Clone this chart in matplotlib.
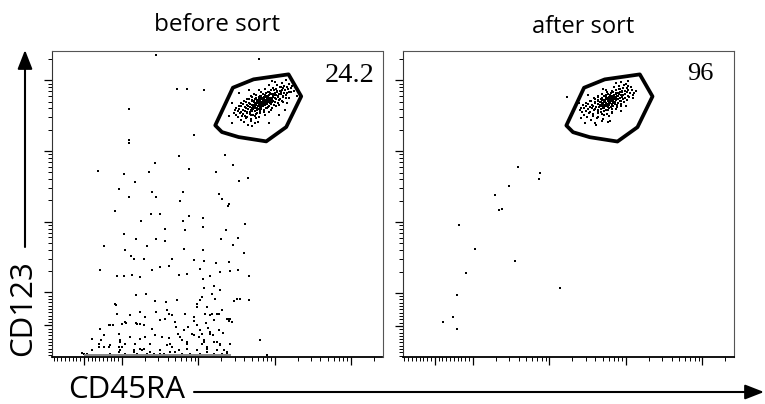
import numpy as np
import matplotlib
matplotlib.use("Agg")
import matplotlib.pyplot as plt
from matplotlib.patches import Polygon, FancyArrowPatch

# ---------------- data (display channel units) ----------------
panel_titles = ["before sort", "after sort"]
gate_percent = ["24.2", "96"]
x_label = "CD45RA"
y_label = "CD123"

# gate polygon (channel units), same gate on both panels
gate_vertices = [(490, 693), (543, 806), (605, 831), (710, 846), (748, 780),
                 (703, 688), (643, 645), (560, 658), (510, 673)]

# before sort: events outside the pDC gate
before_scatter = [
    (312, 905), (620, 891), (375, 803), (405, 803), (457, 800), (230, 743), (230, 648), (232, 640),
    (427, 665), (382, 601), (520, 605), (542, 574), (308, 579), (137, 555), (215, 548), (290, 553),
    (412, 561), (493, 554), (561, 527), (587, 535), (248, 522), (202, 501), (300, 494), (392, 494),
    (230, 478), (311, 478), (385, 466), (502, 486), (510, 471), (532, 458), (527, 451), (190, 436),
    (268, 407), (297, 428), (325, 428), (410, 420), (453, 414), (393, 406), (398, 378), (453, 388),
    (522, 378), (580, 396), (339, 383), (215, 366), (252, 352), (312, 352), (340, 346), (157, 331),
    (218, 320), (285, 330), (395, 321), (453, 318), (507, 352), (557, 355), (542, 333), (575, 311),
    (237, 300), (245, 291), (275, 291), (360, 292), (425, 289), (455, 287), (493, 281), (530, 282),
    (145, 258), (195, 242), (217, 242), (240, 245), (265, 238), (299, 258), (325, 268), (350, 270),
    (380, 245), (405, 246), (445, 263), (452, 232), (475, 242), (505, 253), (535, 255), (558, 258),
    (590, 240), (457, 204), (485, 210), (479, 188), (565, 172), (590, 168), (545, 165), (555, 173),
    (190, 158), (192, 153), (251, 185), (282, 188), (310, 166), (343, 163), (375, 168), (435, 158),
    (445, 168), (465, 148), (490, 171), (505, 198), (195, 128), (263, 133), (312, 133), (345, 138),
    (360, 123), (400, 128), (427, 105), (459, 128), (480, 128), (501, 128), (510, 138), (530, 111),
    (532, 105), (461, 100), (467, 86), (223, 100), (253, 99), (275, 93), (300, 83), (175, 93),
    (325, 108), (370, 102), (408, 88), (435, 93), (445, 78), (475, 68), (500, 78), (513, 71),
    (145, 83), (155, 63), (200, 68), (205, 48), (235, 58), (265, 53), (310, 65), (350, 56),
    (385, 58), (420, 68), (455, 48), (485, 43), (505, 38), (535, 38), (120, 53), (140, 38),
    (175, 33), (200, 28), (245, 18), (275, 23), (325, 18), (360, 28), (370, 13), (405, 23),
    (435, 20), (450, 38), (465, 23), (495, 18), (525, 13), (90, 10), (105, 6), (625, 50),
    (645, 3), (405, 38), (295, 38), (220, 38),
    (170, 93), (183, 93), (210, 98), (220, 103), (233, 123), (255, 98), (265, 98), (278, 118),
    (313, 133), (340, 113), (350, 128), (370, 103), (373, 88), (395, 78), (425, 118), (435, 148),
    (450, 178), (460, 128), (465, 148), (475, 123), (485, 108), (495, 128), (525, 113), (535, 113),
    (540, 103), (147, 48), (155, 28), (120, 18), (205, 43), (210, 28), (203, 18), (235, 58),
    (250, 38), (263, 23), (270, 18), (280, 58), (295, 13), (330, 58), (345, 33), (355, 38),
    (378, 68), (390, 48), (405, 43), (425, 63), (440, 58), (450, 68), (457, 43), (465, 28),
    (475, 73), (483, 63), (495, 43), (505, 33), (515, 18), (435, 18), (380, 18), (325, 8),
    (245, 13), (200, 13), (220, 8), (95, 6), (140, 28), (170, 28), (175, 8), (255, 8),
    (285, 8), (305, 6), (335, 8), (355, 13), (390, 8), (415, 6), (445, 8), (465, 13),
    (485, 8), (510, 8), (525, 6),
]

# before sort: events piled up on the lower axis (CD123 <= 0)
before_floor_x = [100, 104, 108, 112, 115, 119, 123, 127, 130, 134, 137, 141, 146, 150, 152, 156,
                  160, 164, 168, 172, 177, 180, 183, 187, 191, 195, 199, 203, 206, 210, 214, 218,
                  222, 226, 229, 233, 238, 242, 245, 249, 252, 257, 261, 265, 268, 272, 276, 280,
                  284, 288, 291, 296, 300, 303, 307, 311, 315, 319, 323, 327, 330, 335, 339, 343,
                  346, 350, 354, 358, 362, 366, 369, 373, 377, 381, 385, 389, 392, 397, 401, 405,
                  409, 413, 416, 420, 424, 428, 432, 436, 440, 444, 447, 451, 455, 459, 463, 467,
                  470, 474, 478, 482, 486, 490, 494, 498, 501, 505, 509, 513, 517, 521, 524, 528,
                  532, 535]

# before sort: events inside the gate
before_gated = [
    (668, 824), (702, 828), (676, 815), (690, 820), (712, 817),
    (650, 814), (683, 809), (697, 812), (705, 808), (719, 811),
    (640, 802), (662, 806), (671, 801), (688, 807), (694, 804), (708, 802), (716, 805),
    (620, 799), (648, 794), (657, 798), (666, 800), (676, 797), (684, 795), (691, 798), (699, 800), (712, 794),
    (607, 787), (628, 792), (641, 789), (650, 793), (655, 790), (662, 788), (669, 791), (674, 793), (681, 787),
    (688, 792), (697, 790), (706, 789), (718, 793),
    (596, 780), (612, 785), (625, 782), (633, 786), (640, 783), (645, 781), (651, 784), (657, 786), (662, 780),
    (668, 785), (673, 783), (679, 782), (686, 786), (694, 781), (703, 784),
    (585, 773), (601, 778), (612, 775), (620, 779), (626, 776), (631, 774), (636, 777), (640, 779), (645, 773),
    (649, 778), (654, 776), (659, 775), (664, 779), (670, 774), (677, 777), (684, 773), (692, 778), (701, 776), (712, 774),
    (575, 766), (591, 771), (600, 768), (609, 772), (615, 769), (620, 767), (624, 770), (628, 772), (632, 766),
    (636, 771), (640, 769), (644, 768), (648, 772), (653, 767), (658, 770), (664, 766), (671, 771), (680, 769), (690, 767),
    (566, 759), (581, 764), (592, 761), (600, 765), (606, 762), (611, 760), (615, 763), (619, 765), (623, 759),
    (627, 764), (631, 762), (635, 761), (639, 765), (643, 760), (648, 763), (654, 759), (661, 764), (669, 762),
    (678, 760), (693, 763),
    (560, 752), (574, 757), (585, 754), (593, 758), (599, 755), (604, 753), (609, 756), (613, 758), (617, 752),
    (621, 757), (625, 755), (629, 754), (633, 758), (638, 753), (643, 756), (650, 752), (658, 757), (667, 755), (680, 753),
    (553, 745), (567, 750), (578, 747), (587, 751), (594, 748), (599, 746), (604, 749), (609, 751), (614, 745),
    (618, 750), (623, 748), (628, 747), (634, 751), (641, 746), (649, 749), (660, 745), (672, 750),
    (548, 738), (562, 743), (573, 740), (582, 744), (589, 741), (596, 739), (602, 742), (608, 744), (614, 738),
    (620, 743), (627, 741), (635, 740), (645, 744), (657, 739),
    (545, 731), (557, 736), (568, 733), (578, 737), (586, 734), (594, 732), (601, 735), (608, 737), (616, 731),
    (625, 736), (636, 734), (650, 733),
    (551, 724), (563, 729), (574, 726), (584, 730), (593, 727), (602, 725), (612, 728), (624, 730), (640, 724),
    (557, 717), (571, 722), (584, 719), (596, 723), (609, 720), (622, 718),
    (566, 710), (581, 715), (598, 712), (613, 716), (575, 702), (596, 707), (618, 704), (588, 694), (610, 699),
    (622, 771), (634, 767), (646, 775), (630, 758), (642, 763), (617, 761), (651, 769), (638, 779), (626, 750),
    (656, 762), (612, 754), (644, 757), (633, 773), (620, 777), (648, 781), (607, 766), (660, 773), (637, 755),
    (628, 780), (614, 770),
    (530, 720), (540, 760), (560, 790), (590, 800), (580, 720), (680, 725), (700, 740), (725, 795), (735, 780),
    (660, 825), (600, 690), (650, 700), (705, 760), (540, 700),
]

# after sort: events outside the gate
after_scatter = [
    (345, 568), (410, 551), (408, 533), (319, 511), (277, 485), (289, 441), (297, 444), (170, 395),
    (216, 324), (337, 288), (190, 252), (472, 208), (163, 187), (150, 121), (121, 106), (163, 85),
    (492, 778),
]

# after sort: events inside the gate
after_gated = [
    (655, 822), (668, 818), (648, 810), (662, 815), (676, 811),
    (632, 807), (650, 803), (660, 806), (671, 804), (684, 808),
    (610, 800), (628, 796), (640, 799), (649, 801), (657, 797), (666, 795), (674, 799), (688, 800),
    (596, 788), (612, 793), (623, 790), (631, 794), (638, 791), (645, 789), (651, 792), (658, 794), (665, 788),
    (672, 793), (681, 791), (694, 790),
    (585, 781), (598, 786), (608, 783), (616, 787), (622, 784), (628, 782), (633, 785), (638, 787), (643, 781),
    (648, 786), (654, 784), (660, 783), (667, 787), (676, 782), (690, 785),
    (572, 774), (586, 779), (596, 776), (603, 780), (609, 777), (614, 775), (619, 778), (623, 780), (627, 774),
    (631, 779), (635, 777), (640, 776), (645, 780), (651, 775), (658, 778), (666, 774), (677, 779),
    (560, 767), (575, 772), (586, 769), (594, 773), (600, 770), (605, 768), (610, 771), (614, 773), (618, 767),
    (622, 772), (626, 770), (630, 769), (634, 773), (639, 768), (645, 771), (652, 767), (661, 772), (672, 770),
    (549, 760), (563, 765), (575, 762), (584, 766), (591, 763), (597, 761), (602, 764), (606, 766), (610, 760),
    (614, 765), (618, 763), (622, 762), (626, 766), (631, 761), (637, 764), (644, 760), (653, 765), (664, 763),
    (540, 753), (555, 758), (567, 755), (577, 759), (585, 756), (591, 754), (596, 757), (601, 759), (605, 753),
    (609, 758), (613, 756), (617, 755), (622, 759), (628, 754), (635, 757), (643, 753), (655, 758),
    (533, 746), (548, 751), (560, 748), (571, 752), (580, 749), (587, 747), (593, 750), (599, 752), (604, 746),
    (610, 751), (616, 749), (623, 748), (631, 752), (641, 747), (654, 750),
    (530, 739), (544, 744), (556, 741), (567, 745), (577, 742), (585, 740), (593, 743), (601, 745), (609, 739),
    (618, 744), (628, 742), (640, 741),
    (536, 732), (549, 737), (561, 734), (573, 738), (584, 735), (594, 733), (604, 736), (615, 738), (628, 732),
    (543, 725), (557, 730), (571, 727), (585, 731), (598, 728), (612, 726), (626, 729),
    (553, 717), (569, 722), (586, 719), (602, 723), (618, 720),
    (563, 709), (582, 714), (601, 711), (575, 701), (596, 706), (614, 703),
    (603, 762), (615, 769), (627, 758), (609, 775), (621, 765), (597, 768), (633, 771), (612, 755), (624, 776),
    (606, 750), (618, 759), (630, 763), (600, 757), (640, 772), (594, 762),
    (535, 715), (528, 760), (555, 785), (600, 803), (640, 820), (676, 826), (690, 776), (700, 795), (655, 735),
    (670, 752), (620, 705), (580, 695), (545, 700),
]

# ---------------- axis scale (biexponential display) ----------------
X_LIM = (0, 992)
Y_LIM = (0, 916)
X_SCALE = dict(zero=96, c100=210, dec=229)
Y_SCALE = dict(zero=93, c100=192, dec=212)


def to_channel(v, zero, c100, dec):
    v = np.asarray(v, dtype=float)
    a = np.abs(v)
    s = np.sign(v)
    lin = zero + s * (c100 - zero) * np.minimum(a, 100) / 100
    logpart = np.where(a > 100, dec * np.log10(np.maximum(a, 100) / 100), 0.0)
    return lin + s * logpart


major_vals = [0, 1e2, 1e3, 1e4, 1e5]
minor_vals = ([-k * 10 for k in range(1, 10)] + [k * 10 for k in range(1, 10)]
              + [k * 10 ** p for p in (2, 3, 4) for k in range(2, 10)] + [2e5])

# ---------------- figure ----------------
W, H = 765, 404
fig = plt.figure(figsize=(W / 100, H / 100), dpi=100)


def fx(px):
    return px / W


def fy(py):
    return 1 - py / H


ax1 = fig.add_axes([fx(52), fy(356.5), 330.5 / W, 305.5 / H])
ax2 = fig.add_axes([fx(402.7), fy(357), 331.3 / W, 306 / H])

dot_kw = dict(s=1.4, c="black", marker="s", linewidths=0)

for ax, scatter, gated in ((ax1, before_scatter, before_gated), (ax2, after_scatter, after_gated)):
    sx, sy = np.array(scatter).T
    gx, gy = np.array(gated).T
    ax.scatter(sx, sy, **dot_kw)
    ax.scatter(gx, gy, **dot_kw)
    ax.add_patch(Polygon(gate_vertices, closed=True, fill=False, lw=2.7,
                         edgecolor="black", joinstyle="round"))
    ax.set_xlim(*X_LIM)
    ax.set_ylim(*Y_LIM)
    xmin = to_channel(minor_vals, **X_SCALE)
    ymin = to_channel(minor_vals, **Y_SCALE)
    ax.set_xticks(to_channel(major_vals, **X_SCALE))
    ax.set_xticks(xmin[xmin > 0], minor=True)
    ax.set_yticks(to_channel(major_vals, **Y_SCALE))
    ax.set_yticks(ymin[ymin > 0], minor=True)
    ax.set_xticklabels([])
    ax.set_yticklabels([])
    ax.tick_params(which="major", length=6, width=0.9, color="black", direction="out")
    ax.tick_params(which="minor", length=3, width=0.7, color="black", direction="out")
    for side in ("top", "right"):
        ax.spines[side].set_color("#555555")
        ax.spines[side].set_linewidth(0.8)
    ax.spines["left"].set_color("#333333")
    ax.spines["left"].set_linewidth(0.8)
    ax.spines["bottom"].set_color("black")
    ax.spines["bottom"].set_linewidth(1.3)

# floor pile-up in the "before" panel
ax1.scatter(before_floor_x, np.full(len(before_floor_x), 3.0), s=1.4, c="#8a8a8a", marker="s", linewidths=0)

sans = ["Open Sans", "DejaVu Sans"]
serif = ["Liberation Serif", "DejaVu Serif"]

fig.text(fx(217), fy(31), panel_titles[0], ha="center", va="baseline", fontsize=17.5, family=sans)
fig.text(fx(583), fy(33), panel_titles[1], ha="center", va="baseline", fontsize=17, family=sans)

fig.text(fx(375), fy(82), gate_percent[0], ha="right", va="baseline", fontsize=20.5, family=serif)
fig.text(fx(713), fy(80), gate_percent[1], ha="right", va="baseline", fontsize=19, family=serif)

fig.text(fx(185), fy(398), x_label, ha="right", va="baseline", fontsize=22.5, family=sans)
fig.text(fx(23), fy(308), y_label, ha="center", va="center", rotation=90, fontsize=22.5, family=sans)

arrow_style = "-|>,head_length=1.15,head_width=0.45"
fig.add_artist(FancyArrowPatch((fx(25), fy(247)), (fx(25), fy(50)), transform=fig.transFigure,
                               arrowstyle=arrow_style, mutation_scale=10, lw=1.5, color="black",
                               shrinkA=0, shrinkB=0))
fig.add_artist(FancyArrowPatch((fx(194), fy(392)), (fx(764), fy(392)), transform=fig.transFigure,
                               arrowstyle=arrow_style, mutation_scale=10, lw=1.5, color="black",
                               shrinkA=0, shrinkB=0))

fig.savefig("out.png", dpi=100)
